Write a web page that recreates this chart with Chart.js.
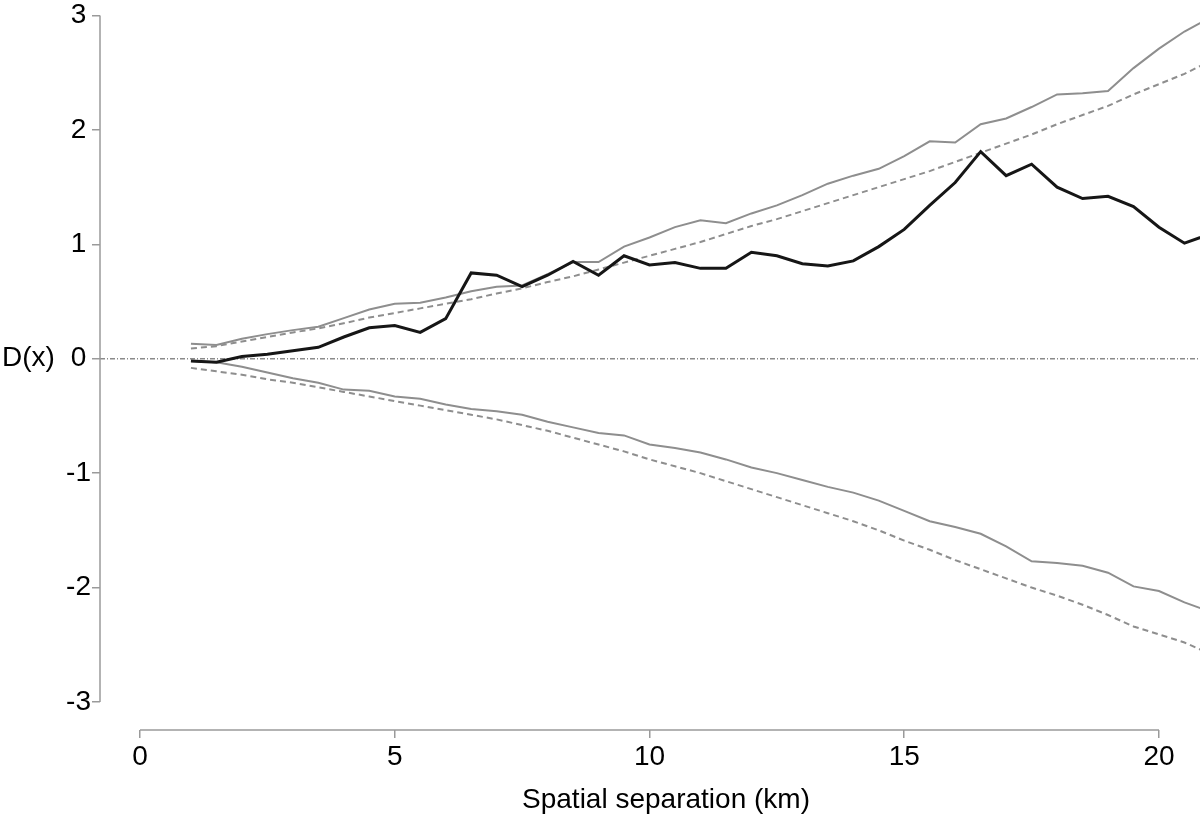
<!DOCTYPE html>
<html>
<head>
<meta charset="utf-8">
<script src="https://cdn.jsdelivr.net/npm/chart.js@4"></script>
<style>
  html, body { margin: 0; padding: 0; background: #fff; }
  #wrap { width: 1200px; height: 815px; }
</style>
</head>
<body>
<div id="wrap"><canvas id="chart"></canvas></div>
<script>
// distance in km
const distances = [1, 1.5, 2, 2.5, 3, 3.5, 4, 4.5, 5, 5.5, 6, 6.5, 7, 7.5, 8, 8.5, 9, 9.5, 10, 10.5,
  11, 11.5, 12, 12.5, 13, 13.5, 14, 14.5, 15, 15.5, 16, 16.5, 17, 17.5, 18, 18.5, 19, 19.5, 20, 20.5, 21];

const observed = [-0.02, -0.03, 0.02, 0.04, 0.07, 0.10, 0.19, 0.27, 0.29, 0.23, 0.35, 0.75, 0.73, 0.63, 0.73, 0.85, 0.73, 0.90, 0.82, 0.84,
  0.79, 0.79, 0.93, 0.90, 0.83, 0.81, 0.855, 0.98, 1.13, 1.34, 1.54, 1.81, 1.60, 1.70, 1.50, 1.40, 1.42, 1.33, 1.15, 1.01, 1.09];

const upperEnv = [0.13, 0.12, 0.175, 0.215, 0.25, 0.28, 0.355, 0.43, 0.48, 0.49, 0.535, 0.59, 0.63, 0.64, 0.74, 0.845, 0.845, 0.98, 1.06, 1.15,
  1.21, 1.185, 1.27, 1.34, 1.43, 1.53, 1.60, 1.66, 1.77, 1.90, 1.89, 2.05, 2.10, 2.20, 2.31, 2.32, 2.34, 2.54, 2.71, 2.86, 2.98];

const upperCI = [0.09, 0.11, 0.15, 0.19, 0.23, 0.265, 0.31, 0.36, 0.40, 0.44, 0.48, 0.52, 0.57, 0.615, 0.67, 0.72, 0.78, 0.84, 0.90, 0.96,
  1.02, 1.09, 1.16, 1.22, 1.29, 1.36, 1.43, 1.50, 1.57, 1.64, 1.72, 1.80, 1.88, 1.96, 2.05, 2.13, 2.21, 2.31, 2.40, 2.49, 2.60];

const lowerEnv = [-0.02, -0.03, -0.07, -0.12, -0.17, -0.21, -0.27, -0.28, -0.33, -0.35, -0.40, -0.44, -0.46, -0.49, -0.55, -0.60, -0.65, -0.67, -0.75, -0.78,
  -0.82, -0.88, -0.95, -1.00, -1.06, -1.12, -1.17, -1.24, -1.33, -1.42, -1.47, -1.53, -1.64, -1.77, -1.785, -1.81, -1.87, -1.99, -2.03, -2.13, -2.21];

const lowerCI = [-0.08, -0.11, -0.14, -0.18, -0.21, -0.25, -0.29, -0.33, -0.37, -0.41, -0.45, -0.49, -0.53, -0.58, -0.63, -0.69, -0.75, -0.81, -0.88, -0.94,
  -1.00, -1.07, -1.14, -1.21, -1.28, -1.35, -1.42, -1.50, -1.59, -1.67, -1.76, -1.84, -1.92, -2.00, -2.07, -2.15, -2.24, -2.34, -2.41, -2.48, -2.58];

const xTicks = [0, 5, 10, 15, 20];
const yTicks = [-3, -2, -1, 0, 1, 2, 3];

const FONT = "'Liberation Sans', Arial, Helvetica, sans-serif";
const AXIS = '#9a9a9a';
const GREY = '#8e8e8e';

const pts = vals => vals.map((v, i) => ({ x: distances[i], y: v }));

// scale sizes are fixed so the plot area lines up with the picture
function fixScale(size) {
  return scale => {
    if (scale.isHorizontal()) scale.height = size;
    else scale.width = size;
    scale.paddingTop = scale.paddingBottom = scale.paddingLeft = scale.paddingRight = 0;
  };
}

const stataAxes = {
  id: 'stataAxes',
  beforeDatasetsDraw(chart) {
    const { ctx, chartArea, scales: { x, y } } = chart;
    // reference line at zero
    ctx.save();
    ctx.strokeStyle = '#8a8a8a';
    ctx.lineWidth = 1.3;
    ctx.setLineDash([5, 2, 1, 2]);
    const y0 = y.getPixelForValue(0);
    ctx.beginPath();
    ctx.moveTo(chartArea.left, y0);
    ctx.lineTo(chartArea.right, y0);
    ctx.stroke();
    ctx.restore();
  },
  afterDraw(chart) {
    const { ctx, chartArea, scales: { x, y } } = chart;
    ctx.save();
    ctx.strokeStyle = AXIS;
    ctx.lineWidth = 1.5;
    ctx.beginPath();
    ctx.moveTo(chartArea.left, y.getPixelForValue(yTicks[yTicks.length - 1]));
    ctx.lineTo(chartArea.left, y.getPixelForValue(yTicks[0]));
    ctx.moveTo(x.getPixelForValue(xTicks[0]), chartArea.bottom);
    ctx.lineTo(x.getPixelForValue(xTicks[xTicks.length - 1]), chartArea.bottom);
    ctx.stroke();

    ctx.fillStyle = '#000';
    ctx.font = '28px ' + FONT;
    ctx.textBaseline = 'middle';
    ctx.textAlign = 'left';
    ctx.fillText('D(x)', 2, y.getPixelForValue(0));
    ctx.textAlign = 'center';
    ctx.fillText('Spatial separation (km)', (chartArea.left + chartArea.right) / 2 + 16, 800);
    ctx.restore();
  }
};

const line = (data, color, width, dash) => ({
  data: pts(data),
  borderColor: color,
  borderWidth: width,
  borderDash: dash || [],
  pointRadius: 0,
  tension: 0,
  fill: false
});

new Chart(document.getElementById('chart'), {
  type: 'line',
  data: {
    datasets: [
      line(observed, '#161616', 3),
      line(upperEnv, GREY, 2),
      line(upperCI, GREY, 2, [6, 4]),
      line(lowerEnv, GREY, 2),
      line(lowerCI, GREY, 2, [6, 4])
    ]
  },
  options: {
    responsive: true,
    maintainAspectRatio: false,
    animation: false,
    layout: { padding: { top: 10, right: 0, bottom: 0, left: 0 } },
    plugins: {
      legend: { display: false },
      tooltip: { enabled: false }
    },
    scales: {
      x: {
        type: 'linear',
        min: -0.785,
        max: 20.805,
        afterBuildTicks: axis => { axis.ticks = xTicks.map(v => ({ value: v })); },
        afterFit: fixScale(85),
        border: { display: false },
        grid: { drawOnChartArea: false, drawTicks: true, tickLength: 8, color: AXIS, lineWidth: 1.5 },
        ticks: { color: '#000', font: { family: FONT, size: 28 }, padding: 2, maxRotation: 0, autoSkip: false }
      },
      y: {
        type: 'linear',
        min: -3.245,
        max: 3.048,
        afterBuildTicks: axis => { axis.ticks = yTicks.map(v => ({ value: v })); },
        afterFit: fixScale(100),
        border: { display: false },
        grid: { drawOnChartArea: false, drawTicks: true, tickLength: 8, color: AXIS, lineWidth: 1.5 },
        ticks: { color: '#000', font: { family: FONT, size: 28 }, padding: 1, crossAlign: 'center' }
      }
    }
  },
  plugins: [stataAxes]
});
</script>
</body>
</html>
